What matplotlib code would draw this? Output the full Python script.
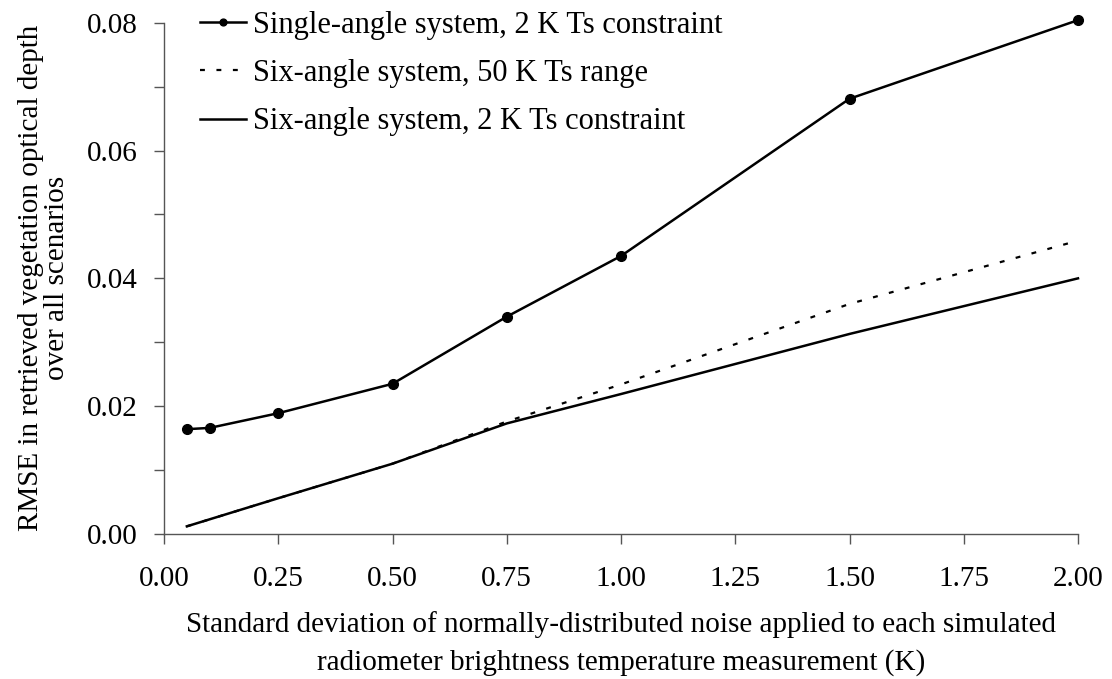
import matplotlib
matplotlib.use("Agg")
import matplotlib.pyplot as plt
from matplotlib.ticker import MultipleLocator, FormatStrFormatter

noise_sd = [0.05, 0.10, 0.25, 0.50, 0.75, 1.00, 1.50, 2.00]
single_2k = [0.0164, 0.0166, 0.0189, 0.0235, 0.0340, 0.0435, 0.0681, 0.0804]
six_50k = [0.0012, 0.0023, 0.0056, 0.0110, 0.0176, 0.0234, 0.0360, 0.0459]
six_2k = [0.0012, 0.0023, 0.0056, 0.0110, 0.0173, 0.0219, 0.0313, 0.0400]

labels = ["Single-angle system, 2 K Ts constraint",
          "Six-angle system, 50 K Ts range",
          "Six-angle system, 2 K Ts constraint"]
xticks = [0.0, 0.25, 0.5, 0.75, 1.0, 1.25, 1.5, 1.75, 2.0]

plt.rcParams['font.family'] = ['Liberation Serif', 'DejaVu Serif']

fig = plt.figure(figsize=(11.12, 6.79), dpi=100)
ax = fig.add_axes([164/1112, 1-534/679, (1078-164)/1112, (534-22.7)/679])

ax.plot(noise_sd, single_2k, color='black', lw=1.8, marker='o', ms=7,
        clip_on=False, label=labels[0])
ax.plot(noise_sd, six_50k, color='black', lw=1.6, ls=(0, (2.2, 5.2)),
        clip_on=False, label=labels[1])
ax.plot(noise_sd, six_2k, color='black', lw=1.8, clip_on=False, label=labels[2])

ax.set_xlim(0, 2.0)
ax.set_ylim(0, 0.08)
ax.set_xticks(xticks)
ax.xaxis.set_major_formatter(FormatStrFormatter('%.2f'))
ax.yaxis.set_major_locator(MultipleLocator(0.02))
ax.yaxis.set_minor_locator(MultipleLocator(0.01))
ax.yaxis.set_major_formatter(FormatStrFormatter('%.2f'))

for s in ['top', 'right']:
    ax.spines[s].set_visible(False)
for s in ['left', 'bottom']:
    ax.spines[s].set_color('#555555')
    ax.spines[s].set_linewidth(1.0)

ax.tick_params(axis='both', which='both', direction='out', color='#555555', width=1.0)
ax.tick_params(axis='x', which='major', length=7, pad=16, labelsize=21)
ax.tick_params(axis='y', which='major', length=7, pad=12, labelsize=21)
ax.tick_params(axis='y', which='minor', length=7)

ax.set_xlabel("Standard deviation of normally-distributed noise applied to each simulated\nradiometer brightness temperature measurement (K)",
              fontsize=21, linespacing=1.53, labelpad=14)
ax.set_ylabel("RMSE in retrieved vegetation optical depth\nover all scenarios",
              fontsize=21, linespacing=1.0, labelpad=12)

leg = ax.legend(loc='upper left', bbox_to_anchor=(0.026, 1.047), frameon=False,
                borderaxespad=0, fontsize=22, handlelength=1.5, handletextpad=0.25,
                labelspacing=0.63, markerscale=0.7)

fig.savefig("out.png", dpi=100)
